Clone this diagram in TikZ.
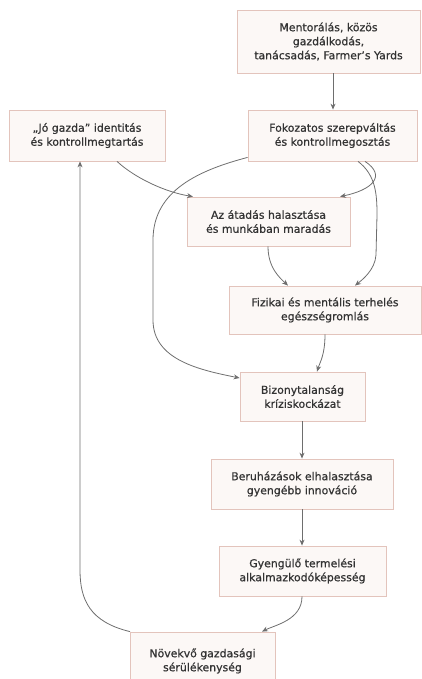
\documentclass[tikz,border=0pt]{standalone}
\usepackage{fontspec}
\setmainfont[FakeBold=0.6]{DejaVu Sans}
\usetikzlibrary{arrows.meta}
\definecolor{boxfill}{HTML}{FCF8F6}
\definecolor{boxline}{HTML}{E3C4BC}
\definecolor{edgecol}{HTML}{6E6E6E}
\definecolor{txt}{HTML}{333333}
\begin{document}
\begin{tikzpicture}[x=1pt,y=-1pt,
  box/.style={draw=boxline,fill=boxfill,line width=0.8pt,text=txt,align=center,
    inner sep=0pt,font=\fontsize{10.9}{14}\selectfont},
  edge/.style={draw=edgecol,line width=0.8pt,-{Stealth[length=6pt,width=5pt]}}]
\useasboundingbox (0,0) rectangle (422,679);
\begin{scope}
\clip (0,0) rectangle (422,679);
\node[box,minimum width=183pt,minimum height=63pt] (n1) at (328.5,41.5) {Mentorálás, közös\\gazdálkodás,\\tanácsadás, Farmer’s Yards};
\node[box,minimum width=169pt,minimum height=51pt] (n2) at (332.5,135.5) {Fokozatos szerepváltás\\és kontrollmegosztás};
\node[box,minimum width=156pt,minimum height=51pt] (n3) at (87,135.5) {„Jó gazda” identitás\\és kontrollmegtartás};
\node[box,minimum width=163pt,minimum height=49pt] (n4) at (268.5,221.5) {Az átadás halasztása\\és munkában maradás};
\node[box,minimum width=192pt,minimum height=48pt] (n5) at (325,310) {Fizikai és mentális terhelés\\egészségromlás};
\node[box,minimum width=125pt,minimum height=49pt] (n6) at (302.5,396.5) {Bizonytalanság\\kríziskockázat};
\node[box,minimum width=182pt,minimum height=50pt] (n7) at (302,484) {Beruházások elhalasztása\\gyengébb innováció};
\node[box,minimum width=167pt,minimum height=50pt] (n8) at (302.5,571) {Gyengülő termelési\\alkalmazkodóképesség};
\node[box,minimum width=145pt,minimum height=58pt] (n9) at (202.5,661) {Növekvő gazdasági\\sérülékenység};
\end{scope}
\draw[edge] (n1.south -| 333,0) -- (n2.north -| 333,0);
\draw[edge] (n3.south -| 117,0) .. controls (135,178) and (165,192) .. (n4.north -| 193,0);
\draw[edge] (n2.south -| 365,0) .. controls (387,176) and (372,190) .. (n4.north -| 340,0);
\draw[edge] (n2.south -| 358,0) .. controls (376,175) and (377,195) .. (377,215) -- (376,255) .. controls (375,270) and (362,280) .. (n5.north -| 355,0);
\draw[edge] (n2.south west) ++(0,-4) .. controls (200,170) and (153,190) .. (153,240) -- (153,320) .. controls (153,360) and (200,370) .. (n6.west |- 0,378);
\draw[edge] (n4.south -| 268,0) .. controls (268,268) and (280,278) .. (n5.north -| 288,0);
\draw[edge] (n5.south -| 325,0) .. controls (325,355) and (320,362) .. (n6.north -| 317,0);
\draw[edge] (n6.south -| 302,0) -- (n7.north -| 302,0);
\draw[edge] (n7.south -| 302,0) -- (n8.north -| 302,0);
\draw[edge] (n8.south -| 302,0) .. controls (302,620) and (275,625) .. (n9.north -| 262,0);
\draw[edge] (n9.north -| 130,0) .. controls (90,622) and (80,600) .. (80,570) -- (n3.south -| 80,0);
\end{tikzpicture}
\end{document}
